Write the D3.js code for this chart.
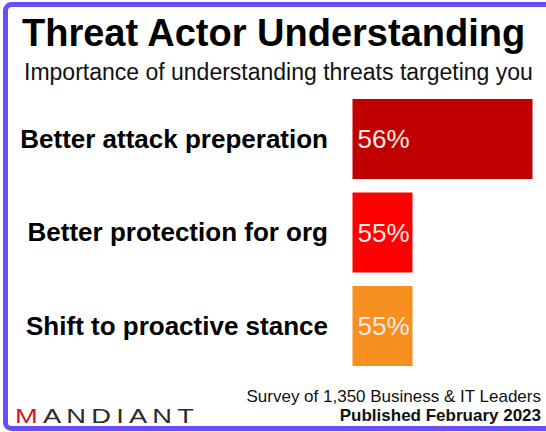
<!DOCTYPE html>
<html>
<head>
<meta charset="utf-8">
<script src="https://cdn.jsdelivr.net/npm/d3@7"></script>
<style>
  html, body { margin: 0; padding: 0; background: #ffffff; }
  svg { display: block; font-family: "Liberation Sans", Arial, Helvetica, sans-serif; }
</style>
</head>
<body>
<svg id="chart" width="546" height="432"></svg>
<script>
// ---- data ----
const categories = ["Better attack preperation", "Better protection for org", "Shift to proactive stance"];
const values = [56, 55, 55];
const valueLabels = ["56%", "55%", "55%"];
const barColors = ["#c00000", "#ff0000", "#f7901e"];
const titleText = "Threat Actor Understanding";
const subtitleText = "Importance of understanding threats targeting you";
const footerLines = ["Survey of 1,350 Business & IT Leaders", "Published February 2023"];
const logoText = ["M", "ANDIANT"];

const W = 546, H = 432;
const svg = d3.select("#chart");

// frame
svg.append("rect")
  .attr("x", 5.5).attr("y", 4.5)
  .attr("width", 570).attr("height", 424)
  .attr("rx", 6)
  .attr("fill", "#ffffff")
  .attr("stroke", "#6c4df5")
  .attr("stroke-width", 5);

// title
svg.append("text")
  .attr("x", 22).attr("y", 46)
  .attr("font-size", 38).attr("font-weight", "bold")
  .attr("fill", "#000")
  .text(titleText);

svg.append("text")
  .attr("x", 24).attr("y", 80)
  .attr("font-size", 23)
  .attr("fill", "#111")
  .text(subtitleText);

// scales
const barLeft = 352.5;
const x = d3.scaleLinear().domain([54.5, 56]).range([barLeft, barLeft + 180]);
const y = d3.scaleBand().domain(categories).range([99, 366]).paddingInner(0.144).paddingOuter(0);

const rows = categories.map((c, i) => ({ cat: c, v: values[i], label: valueLabels[i], color: barColors[i] }));

svg.selectAll("rect.bar").data(rows).enter().append("rect")
  .attr("class", "bar")
  .attr("x", x.range()[0])
  .attr("y", d => y(d.cat))
  .attr("width", d => x(d.v) - x.range()[0])
  .attr("height", y.bandwidth())
  .attr("fill", d => d.color);

svg.selectAll("text.val").data(rows).enter().append("text")
  .attr("class", "val")
  .attr("x", x.range()[0] + 5)
  .attr("y", d => y(d.cat) + y.bandwidth() / 2)
  .attr("dy", "0.36em")
  .attr("font-size", 26)
  .attr("fill", "#fdeae4")
  .text(d => d.label);

svg.selectAll("text.cat").data(rows).enter().append("text")
  .attr("class", "cat")
  .attr("x", 328)
  .attr("y", d => y(d.cat) + y.bandwidth() / 2)
  .attr("dy", "0.33em")
  .attr("text-anchor", "end")
  .attr("font-size", 26).attr("font-weight", "bold")
  .attr("fill", "#000")
  .text(d => d.cat);

// footer
svg.append("text")
  .attr("x", 541).attr("y", 402)
  .attr("text-anchor", "end")
  .attr("font-size", 17)
  .attr("fill", "#111")
  .text(footerLines[0]);
svg.append("text")
  .attr("x", 541).attr("y", 421)
  .attr("text-anchor", "end")
  .attr("font-size", 17).attr("font-weight", "bold")
  .attr("fill", "#111")
  .text(footerLines[1]);

// logo
const logo = svg.append("text")
  .attr("transform", "translate(15,423) scale(1.3,1)")
  .attr("font-size", 21)
  .attr("letter-spacing", 4)
  .attr("fill", "#2b2b2b");
logo.append("tspan").attr("fill", "#d8141c").text(logoText[0]);
logo.append("tspan").text(logoText[1]);
</script>
</body>
</html>
